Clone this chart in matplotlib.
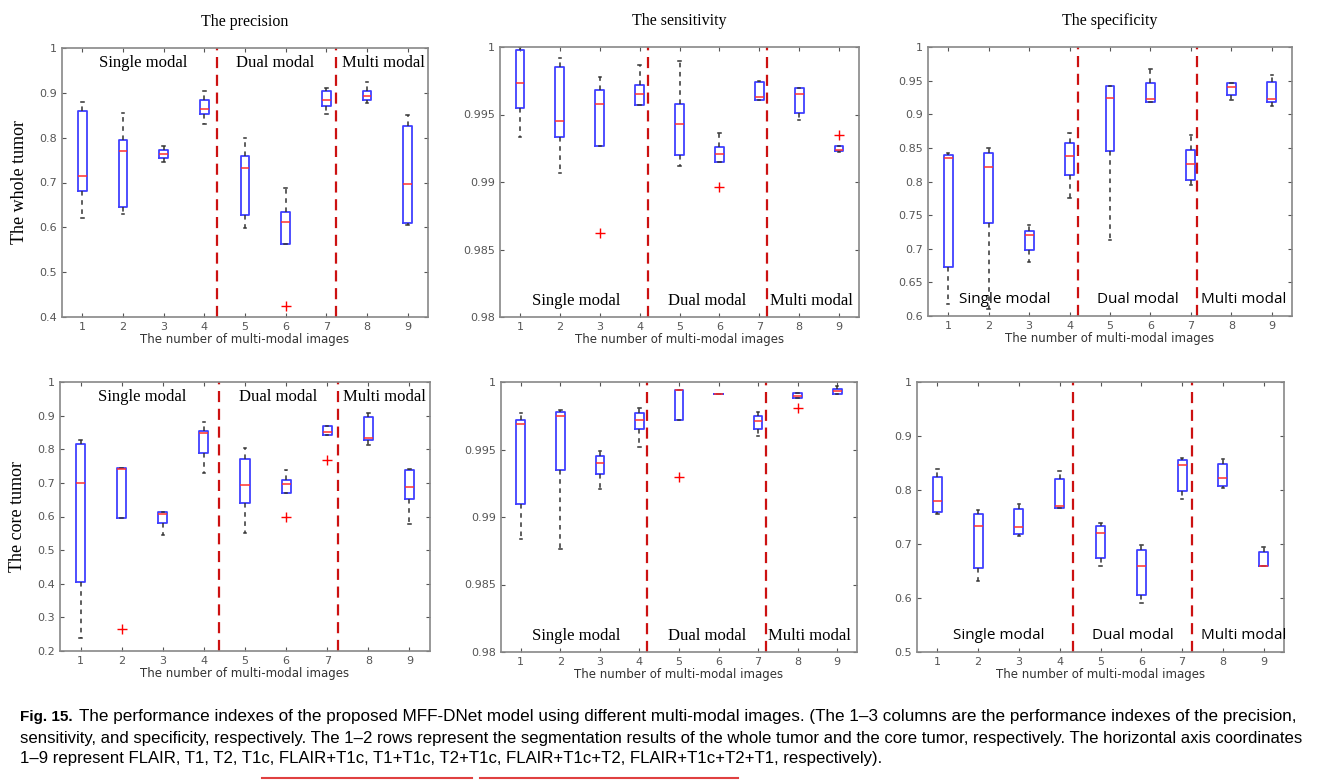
import matplotlib
matplotlib.use("Agg")
import matplotlib.pyplot as plt

positions = [1, 2, 3, 4, 5, 6, 7, 8, 9]
col_titles = ["The precision", "The sensitivity", "The specificity"]
row_labels = ["The whole tumor", "The core tumor"]
xlabel = "The number of multi-modal images"
groups = ["Single modal", "Dual modal", "Multi modal"]

# each series: med, q1, q3, whislo, whishi ; fliers separate
p1_med = [0.715, 0.77, 0.763, 0.865, 0.732, 0.613, 0.885, 0.893, 0.697]
p1_q1 = [0.68, 0.645, 0.755, 0.852, 0.628, 0.563, 0.87, 0.885, 0.61]
p1_q3 = [0.86, 0.795, 0.772, 0.885, 0.76, 0.635, 0.905, 0.905, 0.825]
p1_lo = [0.62, 0.63, 0.745, 0.83, 0.598, 0.563, 0.852, 0.878, 0.605]
p1_hi = [0.88, 0.855, 0.782, 0.905, 0.80, 0.688, 0.91, 0.925, 0.85]
p1_fl = [[], [], [], [], [], [0.425], [], [], []]

p2_med = [0.9973, 0.9945, 0.9958, 0.9965, 0.9943, 0.9921, 0.9963, 0.9965, 0.9924]
p2_q1 = [0.9955, 0.9933, 0.9927, 0.9957, 0.9920, 0.9915, 0.9961, 0.9951, 0.9923]
p2_q3 = [0.9998, 0.9985, 0.9968, 0.9972, 0.9958, 0.9926, 0.9974, 0.9970, 0.9927]
p2_lo = [0.9933, 0.9907, 0.9927, 0.9957, 0.9912, 0.9915, 0.9961, 0.9946, 0.9922]
p2_hi = [1.0, 0.9992, 0.9978, 0.9987, 0.9990, 0.9936, 0.9975, 0.9970, 0.9927]
p2_fl = [[], [], [0.9862], [], [], [0.9896], [], [], [0.9935]]

p3_med = [0.835, 0.822, 0.72, 0.838, 0.924, 0.923, 0.826, 0.941, 0.923]
p3_q1 = [0.673, 0.738, 0.698, 0.81, 0.846, 0.918, 0.802, 0.929, 0.918]
p3_q3 = [0.84, 0.842, 0.727, 0.857, 0.942, 0.946, 0.847, 0.946, 0.948]
p3_lo = [0.618, 0.61, 0.68, 0.775, 0.713, 0.918, 0.795, 0.921, 0.913]
p3_hi = [0.842, 0.85, 0.735, 0.872, 0.942, 0.968, 0.869, 0.946, 0.958]
p3_fl = [[], [], [], [], [], [], [], [], []]

p4_med = [0.70, 0.74, 0.607, 0.847, 0.695, 0.697, 0.85, 0.833, 0.688]
p4_q1 = [0.405, 0.595, 0.58, 0.79, 0.64, 0.67, 0.843, 0.828, 0.653]
p4_q3 = [0.815, 0.745, 0.612, 0.855, 0.77, 0.71, 0.868, 0.897, 0.738]
p4_lo = [0.24, 0.595, 0.545, 0.73, 0.55, 0.67, 0.843, 0.813, 0.578]
p4_hi = [0.828, 0.745, 0.612, 0.88, 0.803, 0.738, 0.868, 0.907, 0.742]
p4_fl = [[], [0.265], [], [], [], [0.60], [0.768], [], []]

p5_med = [0.9969, 0.9975, 0.9940, 0.9972, 0.9994, 0.9991, 0.9971, 0.9990, 0.9993]
p5_q1 = [0.9910, 0.9935, 0.9932, 0.9965, 0.9972, 0.9991, 0.9965, 0.9988, 0.9991]
p5_q3 = [0.9972, 0.9978, 0.9945, 0.9977, 0.9994, 0.9991, 0.9975, 0.9992, 0.9995]
p5_lo = [0.9884, 0.9876, 0.9921, 0.9952, 0.9972, 0.9991, 0.9960, 0.9988, 0.9991]
p5_hi = [0.9977, 0.9979, 0.9949, 0.9981, 0.9994, 0.9991, 0.9978, 0.9992, 0.9997]
p5_fl = [[], [], [], [], [0.9930], [], [], [0.9981], []]

p6_med = [0.78, 0.733, 0.732, 0.771, 0.72, 0.66, 0.846, 0.822, 0.66]
p6_q1 = [0.76, 0.655, 0.718, 0.766, 0.674, 0.606, 0.799, 0.808, 0.66]
p6_q3 = [0.824, 0.755, 0.765, 0.82, 0.733, 0.689, 0.856, 0.849, 0.686]
p6_lo = [0.755, 0.632, 0.714, 0.766, 0.66, 0.59, 0.783, 0.804, 0.66]
p6_hi = [0.838, 0.763, 0.775, 0.835, 0.738, 0.698, 0.86, 0.857, 0.694]
p6_fl = [[], [], [], [], [], [], [], [], []]

panels = [
    dict(d=(p1_med, p1_q1, p1_q3, p1_lo, p1_hi, p1_fl), rect=(62, 48, 428, 317),
         ylim=(0.4, 1.0), yt=[0.4, 0.5, 0.6, 0.7, 0.8, 0.9, 1], ytl=["0.4", "0.5", "0.6", "0.7", "0.8", "0.9", "1"],
         vl=(4.31, 7.24), lab_y=0.945, serif=True, lab_x=(2.5, 5.75, 8.4), ylab=row_labels[0], title=col_titles[0]),
    dict(d=(p2_med, p2_q1, p2_q3, p2_lo, p2_hi, p2_fl), rect=(500, 47, 859, 317),
         ylim=(0.98, 1.0), yt=[0.98, 0.985, 0.99, 0.995, 1], ytl=["0.98", "0.985", "0.99", "0.995", "1"],
         vl=(4.22, 7.2), lab_y=0.06, serif=True, lab_x=(2.4, 5.7, 8.3), ylab=None, title=col_titles[1]),
    dict(d=(p3_med, p3_q1, p3_q3, p3_lo, p3_hi, p3_fl), rect=(928, 47, 1292, 316),
         ylim=(0.6, 1.0), yt=[0.6, 0.65, 0.7, 0.75, 0.8, 0.85, 0.9, 0.95, 1],
         ytl=["0.6", "0.65", "0.7", "0.75", "0.8", "0.85", "0.9", "0.95", "1"],
         vl=(4.22, 7.16), lab_y=0.06, serif=False, lab_x=(2.4, 5.7, 8.3), ylab=None, title=col_titles[2]),
    dict(d=(p4_med, p4_q1, p4_q3, p4_lo, p4_hi, p4_fl), rect=(60, 382, 430, 651),
         ylim=(0.2, 1.0), yt=[0.2, 0.3, 0.4, 0.5, 0.6, 0.7, 0.8, 0.9, 1],
         ytl=["0.2", "0.3", "0.4", "0.5", "0.6", "0.7", "0.8", "0.9", "1"],
         vl=(4.36, 7.26), lab_y=0.945, serif=True, lab_x=(2.5, 5.8, 8.4), ylab=row_labels[1], title=None),
    dict(d=(p5_med, p5_q1, p5_q3, p5_lo, p5_hi, p5_fl), rect=(501, 382, 857, 652),
         ylim=(0.98, 1.0), yt=[0.98, 0.985, 0.99, 0.995, 1], ytl=["0.98", "0.985", "0.99", "0.995", "1"],
         vl=(4.2, 7.2), lab_y=0.06, serif=True, lab_x=(2.4, 5.7, 8.3), ylab=None, title=None),
    dict(d=(p6_med, p6_q1, p6_q3, p6_lo, p6_hi, p6_fl), rect=(917, 382, 1284, 652),
         ylim=(0.5, 1.0), yt=[0.5, 0.6, 0.7, 0.8, 0.9, 1], ytl=["0.5", "0.6", "0.7", "0.8", "0.9", "1"],
         vl=(4.33, 7.24), lab_y=0.06, serif=False, lab_x=(2.5, 5.8, 8.5), ylab=None, title=None),
]

W, H = 1320, 784
fig = plt.figure(figsize=(W / 100, H / 100), dpi=100)
fig.patch.set_facecolor("white")

for p in panels:
    x0, y0, x1, y1 = p["rect"]
    ax = fig.add_axes([x0 / W, 1 - y1 / H, (x1 - x0) / W, (y1 - y0) / H])
    med, q1, q3, lo, hi, fl = p["d"]
    stats = [dict(med=med[i], q1=q1[i], q3=q3[i], whislo=lo[i], whishi=hi[i], fliers=fl[i])
             for i in range(9)]
    ax.bxp(stats, positions=positions, widths=0.22, showfliers=True,
           boxprops=dict(color="#4040ff", lw=1.3),
           medianprops=dict(color="#ff3030", lw=1.1),
           whiskerprops=dict(color="#333333", lw=1.1, ls=(0, (3, 3))),
           capprops=dict(color="#333333", lw=1.1),
           flierprops=dict(marker="+", markeredgecolor="red", markersize=7, markeredgewidth=1.0),
           capwidths=0.06)
    ax.set_xlim(0.5, 9.5)
    ax.set_ylim(*p["ylim"])
    ax.set_yticks(p["yt"])
    ax.set_yticklabels(p["ytl"])
    ax.set_xticks(positions)
    ax.tick_params(labelsize=8, colors="#555555", direction="in", length=3, top=True, right=True)
    for s in ax.spines.values():
        s.set_color("#888888")
        s.set_linewidth(1.2)
    for v in p["vl"]:
        ax.axvline(v, color="#cc1111", ls=(0, (5, 3)), lw=1.6)
    ax.set_xlabel(xlabel, fontsize=8.5, color="#333333", labelpad=1)
    fam = "Liberation Serif" if p["serif"] else "Open Sans"
    fs = 12 if p["serif"] else 11
    for gx, g in zip(p["lab_x"], groups):
        ax.text(gx, p["ylim"][0] + p["lab_y"] * (p["ylim"][1] - p["ylim"][0]), g,
                ha="center", va="center", fontsize=fs, family=fam)
    if p["ylab"]:
        ax.set_ylabel(p["ylab"], fontsize=13, family="Liberation Serif", labelpad=8)
    if p["title"]:
        ax.set_title(p["title"], fontsize=11.5, family="Liberation Serif", pad=16)

cap_lines = [
    "The performance indexes of the proposed MFF-DNet model using different multi-modal images. (The 1–3 columns are the performance indexes of the precision,",
    "sensitivity, and specificity, respectively. The 1–2 rows represent the segmentation results of the whole tumor and the core tumor, respectively. The horizontal axis coordinates",
    "1–9 represent FLAIR, T1, T2, T1c, FLAIR+T1c, T1+T1c, T2+T1c, FLAIR+T1c+T2, FLAIR+T1c+T2+T1, respectively).",
]
fam_cap = "Liberation Sans"
renderer = fig.canvas.get_renderer()
t0 = fig.text(20 / W, 1 - 717 / H, "Fig. 15.", fontsize=11, weight="bold", va="center", family=fam_cap)
w0 = t0.get_window_extent(renderer).width
line_x = [20 + w0 + 6, 20, 20]
line_y = [717, 738, 758]
targets = [1300, 1300, None]
fs_used = 10
for txt, lx, ly, tgt in zip(cap_lines, line_x, line_y, targets):
    t = fig.text(lx / W, 1 - ly / H, txt, fontsize=10, va="center", family=fam_cap)
    if tgt is not None:
        w = t.get_window_extent(renderer).width
        fs_used = 10 * (tgt - lx) / w
        t.set_fontsize(fs_used)
    else:
        t.set_fontsize(fs_used)
fig.add_artist(plt.Line2D([262 / W, 472 / W], [1 - 778 / H] * 2, color="#e04040", lw=1.5))
fig.add_artist(plt.Line2D([480 / W, 738 / W], [1 - 778 / H] * 2, color="#e04040", lw=1.5))

fig.savefig("out.png", dpi=100)
